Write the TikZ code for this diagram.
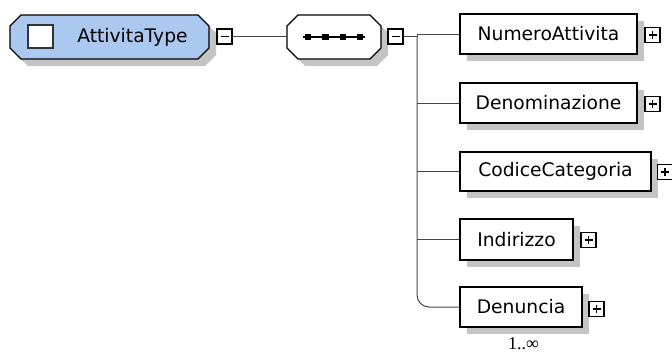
\documentclass[tikz,border=0pt]{standalone}
\usepackage{fontspec}
\setmainfont{DejaVu Sans}
\newfontfamily\occfont{Liberation Serif}
\usetikzlibrary{shadows}

\definecolor{typeblue}{RGB}{170,200,240}
\definecolor{shadowgray}{RGB}{196,196,196}
\definecolor{wiregray}{RGB}{70,70,70}

% octagon from its left, top, width, height and draw options
\newcommand{\octagon}[5]{%
  \path[#5] (#1+11,#2) -- (#1+#3-11,#2) -- (#1+#3,#2+11) -- (#1+#3,#2+#4-11)
    -- (#1+#3-11,#2+#4) -- (#1+11,#2+#4) -- (#1,#2+#4-11) -- (#1,#2+11) -- cycle;}

\tikzset{
  boxshadow/.style={drop shadow={shadow xshift=7pt,shadow yshift=-7pt,fill=shadowgray,opacity=1}},
  octline/.style={draw, line width=1.2pt},
  elembox/.style={rectangle, draw, fill=white, line width=1.2pt, inner sep=0pt, boxshadow,
    font=\fontsize{18.7}{22}\selectfont},
  togglebox/.style={rectangle, draw, fill=white, line width=1.2pt, minimum size=15pt, inner sep=0pt},
  minusbox/.style={togglebox, path picture={
    \draw[line width=1.3pt] ([xshift=3.5pt]path picture bounding box.west) -- ([xshift=-3.5pt]path picture bounding box.east);}},
  plusbox/.style={togglebox, path picture={
    \draw[line width=1.3pt] ([xshift=3.5pt]path picture bounding box.west) -- ([xshift=-3.5pt]path picture bounding box.east);
    \draw[line width=1.3pt] ([yshift=-3.5pt]path picture bounding box.north) -- ([yshift=3.5pt]path picture bounding box.south);}},
  wire/.style={draw=wiregray, line width=1pt},
}

\begin{document}
\begin{tikzpicture}[x=1pt,y=-1pt]
  \useasboundingbox (0,0) rectangle (672,356);

  % complex type
  \octagon{17}{22}{199}{44}{fill=shadowgray}
  \octagon{10}{15}{199}{44}{fill=typeblue, octline}
  \node[minimum width=199pt, minimum height=44pt, inner sep=0pt] (typebox) at (109.5,37) {};
  \node[draw=black!80, line width=1.5pt, fill=white, minimum width=25pt, minimum height=23pt, inner sep=0pt] (typeicon) at (40.5,36.5) {};
  \node[font=\fontsize{18.7}{22}\selectfont, inner sep=0pt] (typelabel) at (132.5,37) {AttivitaType};
  \node[minusbox] (typetoggle) at (224.5,36.5) {};

  % sequence
  \octagon{294}{22}{94}{44}{fill=shadowgray}
  \octagon{287}{15}{94}{44}{fill=white, octline}
  \node[minimum width=94pt, minimum height=44pt, inner sep=0pt] (seq) at (334,37) {};
  \draw[line width=2pt] ([xshift=-31pt]seq.center) -- ([xshift=31pt]seq.center);
  \foreach \dx in {-26,-8.7,8.7,26}
    \fill ([xshift=\dx pt]seq.center) +(-3.2,-3.2) rectangle +(3.2,3.2);
  \node[minusbox] (seqtoggle) at (395.5,36.5) {};

  \draw[wire] (typetoggle.east) -- (typetoggle.east -| seq.west);
  \coordinate (fork) at (417,36.5);
  \draw[wire] (seqtoggle.east) -- (fork);

  % child elements
  \node[elembox, minimum width=177pt, minimum height=40pt] (numero) at (548.5,34) {NumeroAttivita};
  \node[plusbox] (numerotoggle) at (652.5,35) {};
  \node[elembox, minimum width=177pt, minimum height=40pt] (denom) at (548.5,103) {Denominazione};
  \node[plusbox] (denomtoggle) at (652.5,104) {};
  \node[elembox, minimum width=191pt, minimum height=39pt] (codice) at (555.5,171.5) {CodiceCategoria};
  \node[plusbox] (codicetoggle) at (665,172) {};
  \node[elembox, minimum width=113pt, minimum height=41pt] (indirizzo) at (516.5,239.5) {Indirizzo};
  \node[plusbox] (indirizzotoggle) at (588.5,240) {};
  \node[elembox, minimum width=122pt, minimum height=40pt] (denuncia) at (521,307) {Denuncia};
  \node[plusbox] (denunciatoggle) at (596.5,309) {};
  \node[font=\occfont\fontsize{18}{20}\selectfont, inner sep=0pt] (denunciaocc) at (523.5,344) {1..∞};

  % tree wires
  \draw[wire] (fork) -- (fork |- numero.west) -- (numero.west);
  \draw[wire] (fork |- denom.west) -- (denom.west);
  \draw[wire] (fork |- codice.west) -- (codice.west);
  \draw[wire] (fork |- indirizzo.west) -- (indirizzo.west);
  \draw[wire, rounded corners=12pt] (fork) |- (denuncia.west);
\end{tikzpicture}
\end{document}
